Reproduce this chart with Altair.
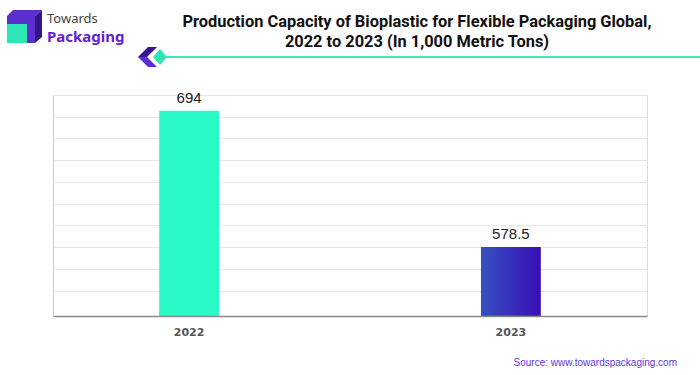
import altair as alt
import pandas as pd

# ---- data ----
years = ["2022", "2023"]
values = [694, 578.5]

title_lines = [
    "Production Capacity of Bioplastic for Flexible Packaging Global,",
    "2022 to 2023 (In 1,000 Metric Tons)",
]
source_text = "Source: www.towardspackaging.com"

# ---- layout ----
PAD_L, PAD_T, PAD_R, PAD_B = 53, 95, 53, 59
W, H = 700 - PAD_L - PAD_R, 375 - PAD_T - PAD_B

Y_MIN, Y_MAX = 520, 707.3
grid_vals = [Y_MAX - i * (Y_MAX - Y_MIN) * 21.74 / H for i in range(10)]

df = pd.DataFrame({"year": years, "value": values})

x_enc = alt.X(
    "year:N",
    sort=years,
    scale=alt.Scale(paddingInner=0.814, paddingOuter=0.33),
    axis=alt.Axis(
        title=None, ticks=False, labelAngle=0, labelPadding=10,
        labelFont="DejaVu Sans", labelFontSize=11, labelFontWeight="bold",
        labelColor="#555555", domainColor="#8a8a8a", domainWidth=1.5,
        zindex=1,
    ),
)
y_enc = alt.Y(
    "value:Q",
    scale=alt.Scale(domain=[Y_MIN, Y_MAX], zero=False, nice=False),
    axis=alt.Axis(
        title=None, labels=False, ticks=False, values=grid_vals,
        grid=True, gridColor="#e6e6e6", gridWidth=1,
        domainColor="#cccccc", domainWidth=1,
    ),
)

base = alt.Chart(df)

bar1 = base.transform_filter(alt.datum.year == "2022").mark_bar(
    clip=True, color="#29F9C6"
).encode(x=x_enc, y=y_enc)

bar2 = base.transform_filter(alt.datum.year == "2023").mark_bar(
    clip=True,
    color=alt.Gradient(
        gradient="linear",
        stops=[alt.GradientStop(color="#3652C2", offset=0),
               alt.GradientStop(color="#3A0DB6", offset=1)],
        x1=0, x2=1, y1=0, y2=0,
    ),
).encode(x=x_enc, y=y_enc)

labels = base.mark_text(
    dy=-8, baseline="alphabetic", fontSize=15, font="Liberation Sans", color="#222222"
).encode(x=x_enc, y=y_enc, text=alt.Text("value:Q"))


def ax(v):
    return alt.value(v - PAD_L)


def ay(v):
    return alt.value(v - PAD_T)


one = pd.DataFrame({"k": [0]})

# title
title_layers = []
for i, line in enumerate(title_lines):
    title_layers.append(
        alt.Chart(pd.DataFrame({"t": [line]})).mark_text(
            font="Roboto", fontSize=16.4, fontWeight="bold", color="#111111",
            align="center", baseline="middle",
        ).encode(x=ax(417), y=ay(22 + 20 * i), text="t:N")
    )

# logo text
towards = alt.Chart(pd.DataFrame({"t": ["Towards"]})).mark_text(
    font="Noto Sans", fontSize=13, color="#444444", align="left", baseline="middle"
).encode(x=ax(47), y=ay(19), text="t:N")
packaging = alt.Chart(pd.DataFrame({"t": ["Packaging"]})).mark_text(
    font="Noto Sans", fontSize=15, fontWeight="bold", color="#6420D2",
    align="left", baseline="middle"
).encode(x=ax(47), y=ay(37), text="t:N")

# shapes drawn as custom symbol paths (size=4 -> unit scale)
shapes = [
    ("M7,16 L13,10 L42,10 L35,16 Z", "#5B2FD0"),
    ("M7,16 L35,16 L35,43 L7,43 Z", "#5B2FD0"),
    ("M35,16 L42,10 L42,37 L35,43 Z", "#33168A"),
    ("M7,24 L27,24 L27,43 L7,43 Z", "#2EE6B5"),
    ("M148,47 L157,47 L147,57 L138,57 Z", "#3A148F"),
    ("M138,57 L147,57 L157,67 L148,67 Z", "#5E2BD8"),
    ("M160,49 L167,57 L160,65 L153,57 Z", "#2EE6B5"),
]
shape_layers = [
    alt.Chart(one).mark_point(
        shape=p, size=4, filled=True, fill=c, opacity=1, strokeWidth=0
    ).encode(x=ax(0), y=ay(0))
    for p, c in shapes
]

deco_line = alt.Chart(one).mark_rule(color="#3EE8B6", strokeWidth=2).encode(
    x=ax(166), x2=ax(700), y=ay(57)
)

source = alt.Chart(pd.DataFrame({"t": [source_text]})).mark_text(
    font="Liberation Sans", fontSize=10, color="#6236DA", align="right", baseline="middle"
).encode(x=ax(677), y=ay(363), text="t:N")

chart = alt.layer(
    bar1, bar2, labels, *title_layers, towards, packaging, *shape_layers, deco_line, source
).properties(
    width=W, height=H,
    padding={"left": PAD_L, "top": PAD_T, "right": PAD_R, "bottom": PAD_B},
    autosize=alt.AutoSizeParams(type="none"),
).configure_view(stroke=None).configure(background="white")

chart.save("out.html", embed_options={"renderer": "svg", "actions": False})
